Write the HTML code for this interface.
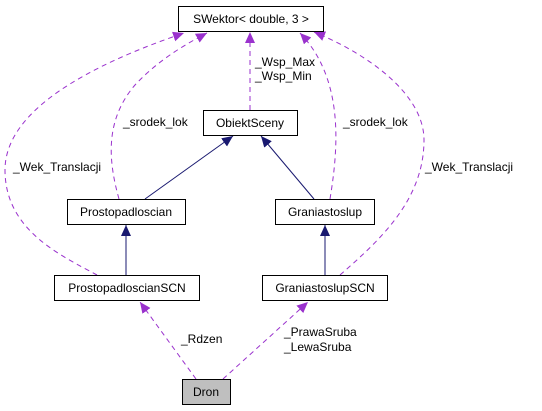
<!DOCTYPE html>
<html><head><meta charset="utf-8"><style>
html,body{margin:0;padding:0;background:#fff;width:542px;height:411px;overflow:hidden}
text{font-family:"Liberation Sans","DejaVu Sans",sans-serif;font-size:12px;fill:#000}
</style></head><body>
<svg width="542" height="411" viewBox="0 0 542 411" xmlns="http://www.w3.org/2000/svg">
<defs>
<marker id="p" markerWidth="12" markerHeight="10" refX="11" refY="5" orient="auto" markerUnits="userSpaceOnUse"><path d="M0,0 L11,5 L0,10 z" fill="#9a32cd"/></marker>
<marker id="n" markerWidth="12" markerHeight="10" refX="11" refY="5" orient="auto" markerUnits="userSpaceOnUse"><path d="M0,0 L11,5 L0,10 z" fill="#191970"/></marker>
</defs>
<g fill="none" stroke="#9a32cd" stroke-width="1" stroke-dasharray="5,4">
<path d="M250,110 L250,32" marker-end="url(#p)"/>
<path d="M119,199 C108,160 105,120 135,85 C160,58 190,42 207,33" marker-end="url(#p)"/>
<path d="M97,275 C60,255 5,230 5,170 C5,110 90,65 184,33" marker-end="url(#p)"/>
<path d="M330,199 C338,150 345,80 300,33" marker-end="url(#p)"/>
<path d="M340,275 C380,240 424,200 424,140 C424,95 370,55 314,32" marker-end="url(#p)"/>
<path d="M196,379 L140,302" marker-end="url(#p)"/>
<path d="M223,379 L308,302" marker-end="url(#p)"/>
</g>
<g fill="none" stroke="#191970" stroke-width="1">
<path d="M145,199 L233,136" marker-end="url(#n)"/>
<path d="M314,199 L261,136" marker-end="url(#n)"/>
<path d="M126,275 L126,225" marker-end="url(#n)"/>
<path d="M325,275 L325,225" marker-end="url(#n)"/>
</g>
<g stroke="#000" stroke-width="1" fill="#fff">
<rect x="178.5" y="6.5" width="145" height="25"/>
<rect x="203.5" y="110.5" width="94" height="25"/>
<rect x="67.5" y="199.5" width="118" height="25"/>
<rect x="275.5" y="199.5" width="99" height="25"/>
<rect x="54.5" y="275.5" width="145" height="25"/>
<rect x="262.5" y="275.5" width="125" height="25"/>
<rect x="182.5" y="379.5" width="48" height="25" fill="#bfbfbf"/>
</g>
<g text-anchor="middle">
<text x="251" y="23">SWektor&lt; double, 3 &gt;</text>
<text x="250" y="127">ObiektSceny</text>
<text x="126" y="216">Prostopadloscian</text>
<text x="325" y="216">Graniastoslup</text>
<text x="127" y="292">ProstopadloscianSCN</text>
<text x="325" y="292">GraniastoslupSCN</text>
<text x="206" y="396">Dron</text>
</g>
<text x="255" y="66">_Wsp_Max</text>
<text x="255" y="80">_Wsp_Min</text>
<text x="123" y="126">_srodek_lok</text>
<text x="343" y="126">_srodek_lok</text>
<text x="13" y="171">_Wek_Translacji</text>
<text x="425" y="171">_Wek_Translacji</text>
<text x="181" y="343">_Rdzen</text>
<text x="284" y="336">_PrawaSruba</text>
<text x="284" y="351">_LewaSruba</text>
</svg>
</body></html>
